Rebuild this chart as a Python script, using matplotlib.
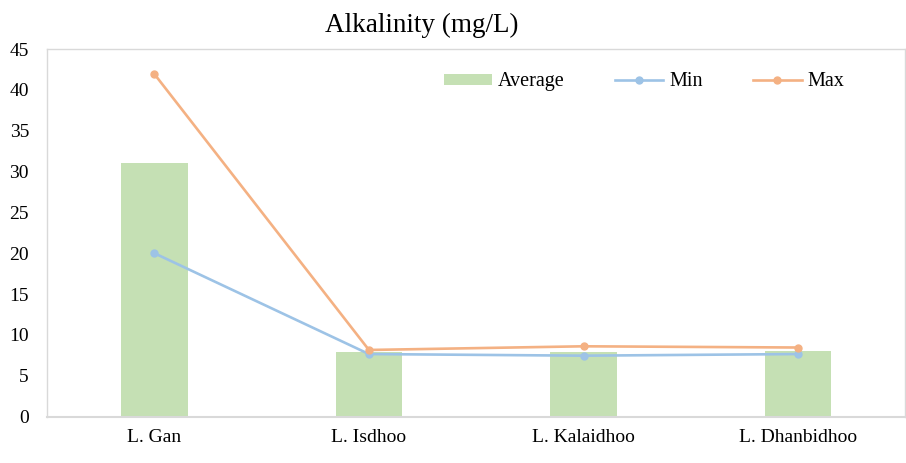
import numpy as np
import matplotlib.pyplot as plt

plt.rcParams['font.family'] = ['Liberation Serif', 'DejaVu Serif']

lakes = ["L. Gan", "L. Isdhoo", "L. Kalaidhoo", "L. Dhanbidhoo"]
average = [31.1, 7.85, 7.95, 8.05]
min_vals = [20.0, 7.65, 7.45, 7.65]
max_vals = [41.95, 8.15, 8.6, 8.45]

x = np.arange(len(lakes))

fig = plt.figure(figsize=(9.06, 4.63), dpi=100)
ax = fig.add_axes([0.0519, 0.1004, 0.9475, 0.7936])

bars = ax.bar(x, average, width=0.31, color='#C5E0B4', label='Average', zorder=1)
l_min, = ax.plot(x, min_vals, color='#9DC3E6', lw=1.9, marker='o', ms=5,
                 label='Min', zorder=2)
l_max, = ax.plot(x, max_vals, color='#F4B183', lw=1.9, marker='o', ms=5,
                 label='Max', zorder=3)

ax.set_xlim(-0.5, 3.5)
ax.set_ylim(0, 45)
ax.set_yticks(np.arange(0, 46, 5))
ax.set_xticks(x)
ax.set_xticklabels(lakes)
ax.tick_params(axis='both', length=0, labelsize=14)
ax.tick_params(axis='y', pad=13)
ax.tick_params(axis='x', pad=9)

for s in ax.spines.values():
    s.set_color('#D9D9D9')
    s.set_linewidth(1.0)
ax.spines['bottom'].set_linewidth(1.5)

fig.text(422 / 906, 1 - 25 / 463, "Alkalinity (mg/L)", fontsize=19.5,
         ha='center', va='center')

fig.legend([bars, l_min, l_max], ['Average', 'Min', 'Max'],
           loc='center', bbox_to_anchor=(644 / 906, 1 - 82 / 463),
           ncol=3, frameon=False, fontsize=14.5, handlelength=2.4,
           handleheight=0.45, handletextpad=0.3, columnspacing=2.5)

fig.savefig("out.png", dpi=100)
